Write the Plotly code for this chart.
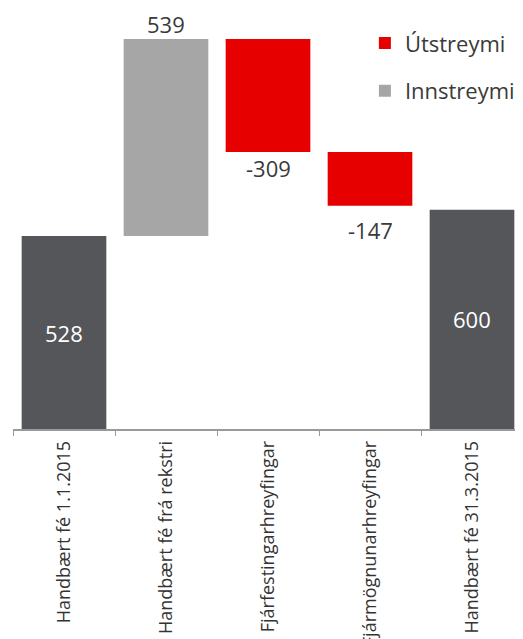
import plotly.graph_objects as go

categories = ["Handbært fé 1.1.2015", "Handbært fé frá rekstri", "Fjárfestingarhreyfingar",
              "Fjármögnunarhreyfingar", "Handbært fé 31.3.2015"]
start_value = 528
flow_values = [539, -309, -147]
end_value = 600

dark = "#54565a"
gray = "#a6a6a6"
red = "#e60000"
txt = "#3a3a3a"
font = "Open Sans"

# cumulative levels
levels = [start_value]
for v in flow_values:
    levels.append(levels[-1] + v)

fig = go.Figure()

fig.add_trace(go.Bar(x=[categories[0], categories[4]], y=[start_value, end_value],
                     marker=dict(color=dark, line=dict(width=0)), showlegend=False))

out_x, out_y, out_base = [], [], []
in_x, in_y, in_base = [], [], []
for i, v in enumerate(flow_values):
    lo = min(levels[i], levels[i + 1])
    if v < 0:
        out_x.append(categories[i + 1]); out_y.append(-v); out_base.append(lo)
    else:
        in_x.append(categories[i + 1]); in_y.append(v); in_base.append(lo)

fig.add_trace(go.Bar(x=out_x, y=out_y, base=out_base, name="Útstreymi",
                     marker=dict(color=red, line=dict(width=0)), legendgroup="a"))
fig.add_trace(go.Bar(x=in_x, y=in_y, base=in_base, name="Innstreymi",
                     marker=dict(color=gray, line=dict(width=0)), legendgroup="b"))

label_shift = {539: -1, -309: 0, -147: -8}

ann = []
ann.append(dict(x=categories[0], y=start_value / 2, text=str(start_value), showarrow=False,
                font=dict(color="white", size=22, family=font)))
ann.append(dict(x=categories[4], y=end_value / 2, text=str(end_value), showarrow=False,
                font=dict(color="white", size=22, family=font)))
for i, v in enumerate(flow_values):
    if v >= 0:
        ann.append(dict(x=categories[i + 1], y=levels[i + 1], text=str(v), showarrow=False,
                        yanchor="bottom", yshift=label_shift.get(v, 0), borderpad=0,
                        font=dict(color=txt, size=22, family=font)))
    else:
        ann.append(dict(x=categories[i + 1], y=levels[i + 1], text=str(v), showarrow=False,
                        yanchor="top", yshift=label_shift.get(v, 0), borderpad=0,
                        font=dict(color=txt, size=22, family=font)))

fig.update_layout(
    width=515, height=631,
    margin=dict(l=5, r=0, t=0, b=210),
    paper_bgcolor="white", plot_bgcolor="white",
    barmode="overlay", bargap=0.17,
    annotations=ann,
    legend=dict(x=0.69, y=0.966, xanchor="left", yanchor="top",
                font=dict(family=font, size=22, color=txt),
                tracegroupgap=16, itemwidth=30, bgcolor="rgba(0,0,0,0)"),
    xaxis=dict(showline=True, linecolor="#999999", linewidth=1.5, ticks="outside",
               tickson="boundaries", ticklen=5, tickcolor="#999999", tickangle=-90,
               categoryorder="array", categoryarray=categories,
               ticklabelstandoff=3,
               tickfont=dict(family=font, size=18, color="#333333"), automargin=False,
               showgrid=False),
    yaxis=dict(range=[0, 1152], visible=False, showgrid=False, zeroline=False),
)

fig.write_html("out.html")
